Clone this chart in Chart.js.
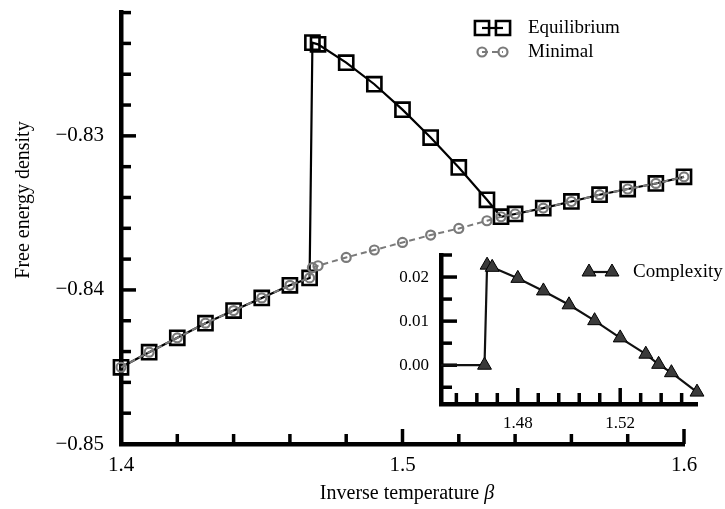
<!DOCTYPE html>
<html>
<head>
<meta charset="utf-8">
<script src="https://cdn.jsdelivr.net/npm/chart.js@4.4.1/dist/chart.umd.min.js"></script>
<style>
  html, body { margin: 0; padding: 0; background: #fff; }
  #wrap { position: relative; width: 725px; height: 509px; }
  #main { position: absolute; left: 0; top: 0; }
  #inset { position: absolute; left: 380px; top: 240px; }
</style>
</head>
<body>
<div id="wrap">
  <canvas id="main" width="725" height="509"></canvas>
  <canvas id="inset" width="345" height="200"></canvas>
</div>
<script>
// main plot: free energy density vs inverse temperature
const beta = [1.40, 1.41, 1.42, 1.43, 1.44, 1.45, 1.46, 1.467, 1.468, 1.47,
              1.48, 1.49, 1.50, 1.51, 1.52, 1.53, 1.535,
              1.54, 1.55, 1.56, 1.57, 1.58, 1.59, 1.60];
const freeEquilibrium = [-0.84502, -0.84404, -0.84311, -0.84216, -0.84134, -0.84052, -0.83970, -0.83922,
                         -0.82395, -0.82406, -0.82525, -0.82665, -0.82830, -0.83011, -0.83205, -0.83415, -0.83525,
                         -0.83507, -0.83469, -0.83426, -0.83382, -0.83345, -0.83309, -0.83266];
const freeMinimal = [-0.84502, -0.84404, -0.84311, -0.84216, -0.84134, -0.84052, -0.83970, -0.83922,
                     -0.83855, -0.83843, -0.83789, -0.83741, -0.83692, -0.83644, -0.83601, -0.83551, -0.83525,
                     -0.83507, -0.83469, -0.83426, -0.83382, -0.83345, -0.83309, -0.83266];

// inset: complexity
const betaInset = [1.40, 1.41, 1.42, 1.43, 1.44, 1.45, 1.46, 1.467, 1.468, 1.47,
                   1.48, 1.49, 1.50, 1.51, 1.52, 1.53, 1.535, 1.54, 1.55];
const complexity = [0, 0, 0, 0, 0, 0, 0, 0, 0.0227, 0.0222,
                    0.0197, 0.01685, 0.0137, 0.0101, 0.0062, 0.0025, 0.0002, -0.0017, -0.0061];

// ticks
const xTicks = [1.40, 1.42, 1.44, 1.46, 1.48, 1.50, 1.52, 1.54, 1.56, 1.58, 1.60];
const xMajor = [1.4, 1.5, 1.6];
const yTicks = [-0.850, -0.848, -0.846, -0.844, -0.842, -0.840, -0.838, -0.836,
                -0.834, -0.832, -0.830, -0.828, -0.826, -0.824, -0.822];
const yMajor = [-0.85, -0.84, -0.83];
const insetXTicks = [1.456, 1.464, 1.472, 1.48, 1.488, 1.496, 1.504, 1.512, 1.52, 1.528, 1.536, 1.544];
const insetXMajor = [1.48, 1.52];
const insetYTicks = [-0.005, 0, 0.005, 0.01, 0.015, 0.02, 0.025];
const insetYMajor = [0, 0.01, 0.02];

const SERIF = '"Liberation Serif", "DejaVu Serif", serif';
Chart.defaults.font.family = SERIF;
Chart.defaults.color = '#000';

function isIn(list, v) {
  return list.some(m => Math.abs(m - v) < 1e-9);
}
function pts(xs, ys) {
  return xs.map((x, i) => ({x: x, y: ys[i]}));
}
// no extra room for half labels, the layout padding sets the plot box
function noPad(s) {
  s.paddingTop = 0; s.paddingBottom = 0; s.paddingLeft = 0; s.paddingRight = 0;
}

// inward tick marks on the two spines
const spineTicks = {
  id: 'spineTicks',
  beforeDatasetsDraw(chart, args, opts) {
    const ctx = chart.ctx;
    const area = chart.chartArea;
    ctx.save();
    ctx.strokeStyle = '#000';
    ctx.lineWidth = opts.width;
    ['x', 'y'].forEach(id => {
      const scale = chart.scales[id];
      scale.ticks.forEach(t => {
        const len = isIn(opts[id + 'Major'], t.value) ? opts.majorLen : opts.minorLen;
        const p = scale.getPixelForValue(t.value);
        ctx.beginPath();
        if (id === 'x') { ctx.moveTo(p, area.bottom); ctx.lineTo(p, area.bottom - len); }
        else { ctx.moveTo(area.left, p); ctx.lineTo(area.left + len, p); }
        ctx.stroke();
      });
    });
    ctx.restore();
  }
};

// matplotlib-like legend: two markers joined by the line
const pairLegend = {
  id: 'pairLegend',
  afterDraw(chart, args, opts) {
    const ctx = chart.ctx;
    opts.items.forEach(item => {
      const ds = chart.data.datasets[item.index];
      ctx.save();
      ctx.strokeStyle = ds.borderColor;
      ctx.lineWidth = ds.borderWidth;
      ctx.setLineDash(ds.borderDash || []);
      ctx.beginPath();
      ctx.moveTo(opts.x1, item.y);
      ctx.lineTo(opts.x2, item.y);
      ctx.stroke();
      ctx.setLineDash([]);
      [opts.x1, opts.x2].forEach(px => {
        ctx.fillStyle = ds.pointBackgroundColor;
        ctx.strokeStyle = ds.pointBorderColor;
        ctx.lineWidth = ds.pointBorderWidth;
        Chart.helpers.drawPoint(ctx, {
          pointStyle: ds.pointStyle, rotation: 0,
          radius: opts.radius[item.index], borderWidth: ds.pointBorderWidth
        }, px, item.y);
      });
      ctx.fillStyle = '#000';
      ctx.font = opts.font;
      ctx.textAlign = 'left';
      ctx.textBaseline = 'middle';
      ctx.fillText(ds.label, opts.textX, item.y);
      ctx.restore();
    });
  }
};

// axis titles (beta in italic, as in the LaTeX original)
const axisTitles = {
  id: 'axisTitles',
  afterDraw(chart) {
    const ctx = chart.ctx;
    ctx.save();
    ctx.fillStyle = '#000';
    ctx.textBaseline = 'middle';
    ctx.font = '20px ' + SERIF;
    const a = 'Inverse temperature ';
    const wa = ctx.measureText(a).width;
    ctx.font = 'italic 20px ' + SERIF;
    const wb = ctx.measureText('β').width;
    let x0 = 407 - (wa + wb) / 2;
    ctx.font = '20px ' + SERIF;
    ctx.textAlign = 'left';
    ctx.fillText(a, x0, 494);
    ctx.font = 'italic 20px ' + SERIF;
    ctx.fillText('β', x0 + wa, 494);

    ctx.translate(24, 200);
    ctx.rotate(-Math.PI / 2);
    ctx.font = '20px ' + SERIF;
    ctx.textAlign = 'center';
    ctx.fillText('Free energy density', 0, 0);
    ctx.restore();
  }
};

new Chart(document.getElementById('main'), {
  type: 'scatter',
  data: {
    datasets: [{
      label: 'Equilibrium',
      data: pts(beta, freeEquilibrium),
      showLine: true,
      order: 2,
      clip: false,
      borderColor: '#000',
      borderWidth: 2.2,
      pointStyle: 'rect',
      pointRadius: 10,
      pointBorderWidth: 2.6,
      pointBorderColor: '#000',
      pointBackgroundColor: 'rgba(255,255,255,0)'
    }, {
      label: 'Minimal',
      data: pts(beta, freeMinimal),
      showLine: true,
      order: 1,
      clip: false,
      borderColor: '#7a7a7a',
      borderWidth: 2,
      borderDash: [6, 4],
      pointStyle: 'circle',
      pointRadius: 4.5,
      pointBorderWidth: 2.2,
      pointBorderColor: '#7a7a7a',
      pointBackgroundColor: 'rgba(255,255,255,0)'
    }]
  },
  options: {
    responsive: false,
    animation: false,
    events: [],
    layout: { padding: { left: 0, top: 12, right: 41, bottom: 0 } },
    plugins: {
      legend: { display: false },
      tooltip: { enabled: false },
      spineTicks: { xMajor: xMajor, yMajor: yMajor, majorLen: 15, minorLen: 10, width: 3.5 },
      pairLegend: {
        x1: 482, x2: 503, textX: 528, font: '19px ' + SERIF,
        radius: [10, 4.5],
        items: [{ index: 0, y: 28 }, { index: 1, y: 52 }]
      }
    },
    scales: {
      x: {
        type: 'linear', min: 1.4, max: 1.6,
        grid: { display: false, drawTicks: false },
        border: { display: true, width: 4.5, color: '#000' },
        afterBuildTicks: s => { s.ticks = xTicks.map(v => ({ value: v })); },
        afterFit: s => { s.height = 65; noPad(s); },
        ticks: {
          autoSkip: false, maxRotation: 0, padding: 9,
          font: { size: 21 },
          callback: v => isIn(xMajor, v) ? v.toFixed(1) : ''
        }
      },
      y: {
        type: 'linear', min: -0.85, max: -0.822,
        grid: { display: false, drawTicks: false },
        border: { display: true, width: 4.5, color: '#000' },
        afterBuildTicks: s => { s.ticks = yTicks.map(v => ({ value: v })); },
        afterFit: s => { s.width = 121; noPad(s); },
        ticks: {
          autoSkip: false, padding: 17,
          font: { size: 21 },
          callback: v => isIn(yMajor, v) ? '\u2212' + Math.abs(v).toFixed(2) : ''
        }
      }
    }
  },
  plugins: [spineTicks, pairLegend, axisTitles]
});

new Chart(document.getElementById('inset'), {
  type: 'scatter',
  data: {
    datasets: [{
      label: 'Complexity',
      data: pts(betaInset, complexity),
      showLine: true,
      clip: { left: 0, top: false, right: false, bottom: false },
      borderColor: '#111',
      borderWidth: 2.2,
      pointStyle: 'triangle',
      pointRadius: c => betaInset[c.dataIndex] < 1.466 ? 0 : 8,
      pointBorderWidth: 1,
      pointBorderColor: '#000',
      pointBackgroundColor: '#3a3a3a'
    }]
  },
  options: {
    responsive: false,
    animation: false,
    events: [],
    layout: { padding: { left: 0, top: 15, right: 28, bottom: 0 } },
    plugins: {
      legend: { display: false },
      tooltip: { enabled: false },
      spineTicks: { xMajor: insetXMajor, yMajor: insetYMajor, majorLen: 16, minorLen: 11, width: 3.5 },
      pairLegend: {
        x1: 209, x2: 232, textX: 253, font: '19px ' + SERIF,
        radius: [8],
        items: [{ index: 0, y: 32 }]
      }
    },
    scales: {
      x: {
        type: 'linear', min: 1.45, max: 1.55,
        grid: { display: false, drawTicks: false },
        border: { display: true, width: 4.5, color: '#000' },
        afterBuildTicks: s => { s.ticks = insetXTicks.map(v => ({ value: v })); },
        afterFit: s => { s.height = 36; noPad(s); },
        ticks: {
          autoSkip: false, maxRotation: 0, padding: 9,
          font: { size: 17 },
          callback: v => isIn(insetXMajor, v) ? v.toFixed(2) : ''
        }
      },
      y: {
        type: 'linear', min: -0.0088, max: 0.025,
        grid: { display: false, drawTicks: false },
        border: { display: true, width: 4.5, color: '#000' },
        afterBuildTicks: s => { s.ticks = insetYTicks.map(v => ({ value: v })); },
        afterFit: s => { s.width = 61; noPad(s); },
        ticks: {
          autoSkip: false, padding: 12,
          font: { size: 17 },
          callback: v => isIn(insetYMajor, v) ? v.toFixed(2) : ''
        }
      }
    }
  },
  plugins: [spineTicks, pairLegend]
});
</script>
</body>
</html>
